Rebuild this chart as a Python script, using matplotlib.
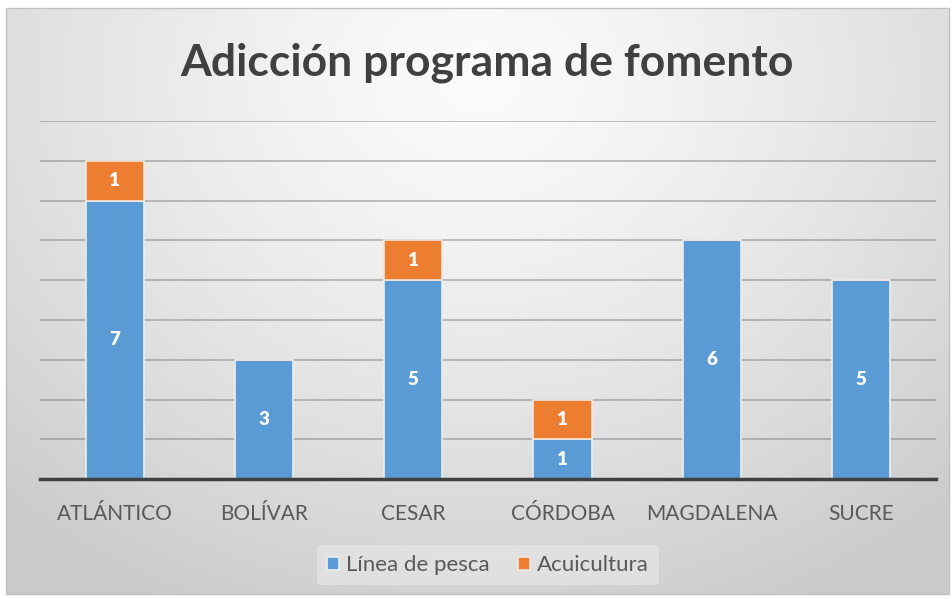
import matplotlib.pyplot as plt
import numpy as np
from matplotlib.patches import Rectangle

plt.rcParams['font.family'] = ['Lato', 'DejaVu Sans']

departamentos = ['ATLÁNTICO', 'BOLÍVAR', 'CESAR', 'CÓRDOBA', 'MAGDALENA', 'SUCRE']
linea_pesca = [7, 3, 5, 1, 6, 5]
acuicultura = [1, 0, 1, 1, 0, 0]

azul = '#5B9BD5'
naranja = '#ED7D31'

fig = plt.figure(figsize=(9.53, 5.99), dpi=100)
fig.patch.set_facecolor('white')

# fondo con degradado radial
bg = fig.add_axes([0.006, 0.008, 0.99, 0.978])
yy, xx = np.mgrid[0:1:300j, 0:1:500j]
r = np.sqrt(((xx - 0.5) / 0.75) ** 2 + ((yy - 0.12) / 1.0) ** 2)
r = np.clip(r, 0, 1)
g = 0.985 - 0.19 * r ** 1.3
bg.imshow(np.dstack([g, g, g]), aspect='auto', extent=[0, 1, 1, 0])
bg.set_xlim(0, 1)
bg.set_ylim(1, 0)
bg.axis('off')
fig.add_artist(Rectangle((0.006, 0.008), 0.99, 0.978, transform=fig.transFigure,
                         fill=False, edgecolor='#c0c0c0', lw=1))

ax = fig.add_axes([0.042, 0.2, 0.94, 0.598])
ax.set_facecolor('none')
x = np.arange(len(departamentos))
w = 0.39
b1 = ax.bar(x, linea_pesca, w, color=azul, edgecolor='#e8eef5', linewidth=1.2,
            label='Línea de pesca', zorder=3)
b2 = ax.bar(x, acuicultura, w, bottom=linea_pesca, color=naranja, edgecolor='#f3e6dc',
            linewidth=1.2, label='Acuicultura', zorder=3)

for i in range(len(x)):
    if linea_pesca[i]:
        ax.text(x[i], linea_pesca[i] / 2, str(linea_pesca[i]), ha='center', va='center',
                color='white', fontsize=13.5, fontweight='heavy', zorder=4)
    if acuicultura[i]:
        ax.text(x[i], linea_pesca[i] + acuicultura[i] / 2, str(acuicultura[i]),
                ha='center', va='center', color='white', fontsize=13.5,
                fontweight='heavy', zorder=4)

ax.set_xlim(-0.5, len(x) - 0.5)
ax.set_ylim(0, 9)
ax.set_yticks(range(1, 10))
ax.yaxis.grid(True, color='#6f6f6f', alpha=0.45, lw=1.3, zorder=0)
ax.tick_params(axis='y', left=False, labelleft=False)
ax.tick_params(axis='x', length=0, pad=18, labelsize=15, labelcolor='#595959')
ax.set_xticks(x)
ax.set_xticklabels(departamentos)
for s in ['top', 'right', 'left']:
    ax.spines[s].set_visible(False)
ax.spines['bottom'].set_color('#404040')
ax.spines['bottom'].set_linewidth(2.5)
ax.spines['bottom'].set_zorder(5)

fig.text(0.511, 0.895, 'Adicción programa de fomento', ha='center', va='center',
         fontsize=32, fontweight='bold', color='#404040')

leg = fig.legend(handles=[b1, b2], loc='center', bbox_to_anchor=(0.512, 0.056),
                 ncol=2, frameon=True, fontsize=16, handlelength=0.55, handleheight=0.55,
                 handletextpad=0.3, columnspacing=1.3, borderpad=0.45, borderaxespad=0)
leg.get_frame().set_facecolor('#e4e4e4')
leg.get_frame().set_edgecolor('none')
leg.get_frame().set_alpha(0.8)
for t in leg.get_texts():
    t.set_color('#595959')

fig.savefig('out.png', dpi=100)
